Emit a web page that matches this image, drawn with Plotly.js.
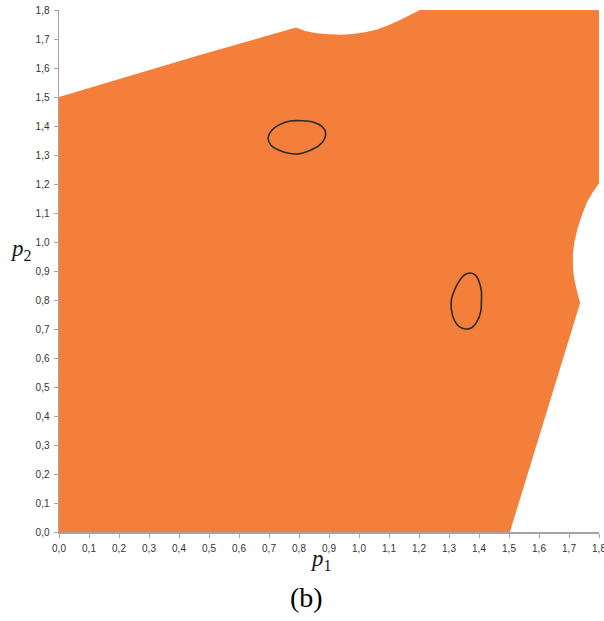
<!DOCTYPE html>
<html>
<head>
<meta charset="utf-8">
<script src="https://cdn.plot.ly/plotly-3.0.1.min.js"></script>
<style>html,body{margin:0;padding:0;background:#fff;}#chart{width:604px;height:621px;}</style>
</head>
<body>
<div id="chart"></div>
<script>
// Region boundary (p1, p2)
const regionP1 = [0, 0, 0.47, 0.79, 0.82, 0.86, 0.90, 0.94, 0.98, 1.02, 1.06, 1.10, 1.14, 1.18, 1.203, 1.8, 1.8, 1.78, 1.76, 1.742, 1.728, 1.718, 1.713, 1.713, 1.717, 1.726, 1.737, 1.503, 0];
const regionP2 = [0, 1.5, 1.645, 1.740, 1.728, 1.720, 1.716, 1.715, 1.717, 1.723, 1.733, 1.748, 1.767, 1.788, 1.8, 1.8, 1.203, 1.172, 1.138, 1.090, 1.045, 1.000, 0.960, 0.915, 0.875, 0.834, 0.790, 0, 0];

// Closed curve 1
const curve1P1 = [0.697, 0.710, 0.732, 0.771, 0.810, 0.849, 0.877, 0.888, 0.886, 0.866, 0.832, 0.799, 0.766, 0.732, 0.708, 0.697];
const curve1P2 = [1.358, 1.386, 1.403, 1.417, 1.418, 1.413, 1.398, 1.380, 1.358, 1.332, 1.314, 1.304, 1.306, 1.317, 1.332, 1.358];

// Closed curve 2
const curve2P1 = [1.370, 1.389, 1.400, 1.408, 1.408, 1.406, 1.394, 1.378, 1.356, 1.333, 1.317, 1.308, 1.308, 1.319, 1.337, 1.352, 1.370];
const curve2P2 = [0.893, 0.885, 0.864, 0.830, 0.796, 0.761, 0.727, 0.706, 0.700, 0.709, 0.732, 0.767, 0.801, 0.836, 0.870, 0.887, 0.893];

const tickVals = [0, 0.1, 0.2, 0.3, 0.4, 0.5, 0.6, 0.7, 0.8, 0.9, 1.0, 1.1, 1.2, 1.3, 1.4, 1.5, 1.6, 1.7, 1.8];
const tickText = ["0,0","0,1","0,2","0,3","0,4","0,5","0,6","0,7","0,8","0,9","1,0","1,1","1,2","1,3","1,4","1,5","1,6","1,7","1,8"];

const traces = [
  {x: regionP1, y: regionP2, type: 'scatter', mode: 'lines', fill: 'toself',
   fillcolor: '#F37F3B', line: {width: 0, color: '#F37F3B', shape: 'linear'}, hoverinfo: 'skip'},
  {x: curve1P1, y: curve1P2, type: 'scatter', mode: 'lines', line: {color: '#2a2a2a', width: 1.6, shape: 'spline'}},
  {x: curve2P1, y: curve2P2, type: 'scatter', mode: 'lines', line: {color: '#2a2a2a', width: 1.6, shape: 'spline'}}
];

const axisCommon = {
  range: [0, 1.8], tickvals: tickVals, ticktext: tickText, showgrid: false, zeroline: false,
  showline: true, linecolor: '#aaa29f', linewidth: 1.5, ticks: 'outside', ticklen: 4, tickcolor: '#aaa29f',
  ticklabeloverflow: 'allow',
  tickfont: {family: 'Liberation Sans, Arial, sans-serif', size: 10, color: '#333'}
};

const layout = {
  width: 604, height: 621, showlegend: false,
  margin: {l: 59, r: 5, t: 10, b: 89},
  paper_bgcolor: '#fff', plot_bgcolor: '#fff',
  xaxis: Object.assign({}, axisCommon, {ticklabelstandoff: 2}),
  yaxis: Object.assign({}, axisCommon, {ticklabelstandoff: 2}),
  annotations: [
    {text: '<i>p</i><sub>1</sub>', xref: 'paper', yref: 'paper', x: 0.485, y: -0.054, xanchor: 'center', yanchor: 'middle', showarrow: false,
     font: {family: 'Liberation Serif, Times New Roman, serif', size: 23, color: '#1a1a1a'}},
    {text: '<i>p</i><sub>2</sub>', xref: 'paper', yref: 'paper', x: -0.07, y: 0.54, xanchor: 'center', yanchor: 'middle', showarrow: false,
     font: {family: 'Liberation Serif, Times New Roman, serif', size: 23, color: '#1a1a1a'}},
    {text: '(b)', xref: 'paper', yref: 'paper', x: 0.458, y: -0.126, xanchor: 'center', yanchor: 'middle', showarrow: false,
     font: {family: 'Liberation Serif, Times New Roman, serif', size: 28, color: '#000'}}
  ]
};

Plotly.newPlot('chart', traces, layout, {displayModeBar: false, staticPlot: true});
</script>
</body>
</html>
